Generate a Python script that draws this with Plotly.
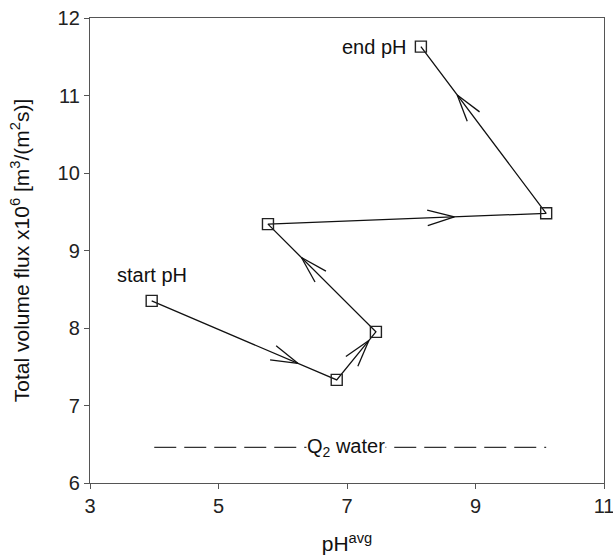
import math
import plotly.graph_objects as go

# data
ph_avg = [3.96, 6.84, 7.45, 5.77, 10.10, 8.15]
flux = [8.35, 7.33, 7.95, 9.34, 9.48, 11.63]
arrow_frac = [0.79, 0.82, 0.69, 0.67, 0.71]
q2_x = [4.0, 10.1]
q2_y = [6.46, 6.46]
x_ticks = [3, 5, 7, 9, 11]
y_ticks = [6, 7, 8, 9, 10, 11, 12]

W, H = 613, 560
ML, MR, MT, MB = 90, 9, 18, 77
XR = [3, 11]
YR = [6, 12]
pw = W - ML - MR
ph = H - MT - MB
sx = pw / (XR[1] - XR[0])
sy = ph / (YR[1] - YR[0])

# open V arrowheads computed in pixel space
ax, ay = [], []
L, ang = 28, math.radians(16)
for i, f in enumerate(arrow_frac):
    x0, y0, x1, y1 = ph_avg[i], flux[i], ph_avg[i + 1], flux[i + 1]
    tx, ty = x0 + f * (x1 - x0), y0 + f * (y1 - y0)
    dx, dy = (x1 - x0) * sx, (y1 - y0) * sy
    d = math.hypot(dx, dy)
    ux, uy = -dx / d, -dy / d
    for s in (1, -1):
        c, sn = math.cos(s * ang), math.sin(s * ang)
        wx, wy = ux * c - uy * sn, ux * sn + uy * c
        ax += [tx + wx * L / sx, tx, None]
        ay += [ty + wy * L / sy, ty, None]

FAM = "Liberation Sans, Arial, sans-serif"
fig = go.Figure()
fig.add_trace(go.Scatter(x=q2_x, y=q2_y, mode="lines",
                         line=dict(color="#333", width=1.2, dash="22px,8px"),
                         hoverinfo="skip", showlegend=False))
fig.add_trace(go.Scatter(x=ax, y=ay, mode="lines",
                         line=dict(color="#111", width=1.3),
                         hoverinfo="skip", showlegend=False))
fig.add_trace(go.Scatter(x=ph_avg, y=flux, mode="lines+markers",
                         line=dict(color="#111", width=1.3),
                         marker=dict(symbol="square-open", size=11,
                                     color="#222", line=dict(width=1.4)),
                         showlegend=False))

fnt = dict(family=FAM, size=20, color="#111")
fig.add_annotation(x=ph_avg[0], y=flux[0], text="start pH", showarrow=False,
                   xanchor="center", yanchor="bottom", yshift=13, font=fnt)
fig.add_annotation(x=ph_avg[-1], y=flux[-1], text="end pH", showarrow=False,
                   xanchor="right", yanchor="middle", xshift=-12, font=fnt)
fig.add_annotation(x=6.98, y=q2_y[0], text="Q<sub>2</sub> water", showarrow=False,
                   xanchor="center", yanchor="middle", bgcolor="white",
                   borderpad=0, font=fnt)

axis_common = dict(showgrid=False, zeroline=False, showline=True, linecolor="#555",
                   linewidth=1.3, mirror=True, ticks="outside", ticklen=5,
                   tickcolor="#555", tickwidth=1.3, ticklabeloverflow="allow",
                   automargin=False,
                   tickfont=dict(family=FAM, size=20, color="#222"))
fig.update_xaxes(range=XR, tickvals=x_ticks, **axis_common,
                 title=dict(text="pH<sup>avg</sup>", standoff=20,
                            font=dict(family=FAM, size=21, color="#111")))
fig.update_yaxes(range=YR, tickvals=y_ticks, **axis_common,
                 title=dict(text="Total volume flux x10<sup>6</sup> [m<sup>3</sup>/(m<sup>2</sup>s)]",
                            standoff=22,
                            font=dict(family=FAM, size=21, color="#111")))
fig.update_layout(width=W, height=H, margin=dict(l=ML, r=MR, t=MT, b=MB, autoexpand=False),
                  plot_bgcolor="white", paper_bgcolor="white")
fig.write_html("out.html")
